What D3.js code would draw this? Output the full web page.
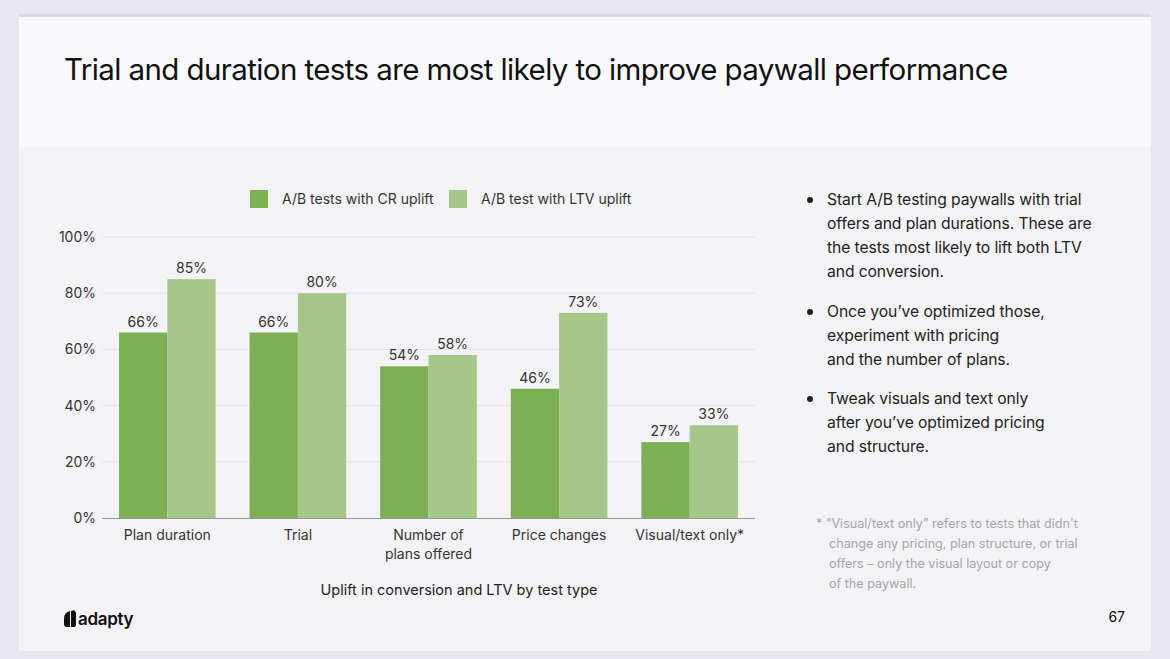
<!DOCTYPE html>
<html><head><meta charset="utf-8">
<script src="https://cdn.jsdelivr.net/npm/d3@7"></script>
<style>
html,body{margin:0;padding:0;background:#e8e7ed;}
svg{display:block;font-family:Inter,"Noto Sans",sans-serif;}
</style></head>
<body>
<svg id="c" width="1170" height="659"></svg>
<script>
const categories = ["Plan duration","Trial","Number of\nplans offered","Price changes","Visual/text only*"];
const seriesNames = ["A/B tests with CR uplift","A/B test with LTV uplift"];
const crValues = [66,66,54,46,27];
const ltvValues = [85,80,58,73,33];
const yTicks = [0,20,40,60,80,100];
const title = "Trial and duration tests are most likely to improve paywall performance";
const caption = "Uplift in conversion and LTV by test type";
const bullets = [
  ["Start A/B testing paywalls with trial","offers and plan durations. These are","the tests most likely to lift both LTV","and conversion."],
  ["Once you\u2019ve optimized those,","experiment with pricing","and the number of plans."],
  ["Tweak visuals and text only","after you\u2019ve optimized pricing","and structure."]
];
const footnote = ["* \u201cVisual/text only\u201d refers to tests that didn't","change any pricing, plan structure, or trial","offers \u2013 only the visual layout or copy","of the paywall."];
const pageNum = "67";
const colors = ["#7daf55","#a5c88a"];

const svg = d3.select("#c");
// slide
svg.append("rect").attr("x",0).attr("y",0).attr("width",1170).attr("height",659).attr("fill","#e8e7ed");
svg.append("rect").attr("x",19).attr("y",14).attr("width",1132).attr("height",637).attr("fill","#d9d8de");
svg.append("rect").attr("x",19).attr("y",17).attr("width",1132).attr("height",634).attr("fill","#f3f3f6");
svg.append("rect").attr("x",19).attr("y",17).attr("width",1132).attr("height",130).attr("fill","#f9f9fb");

svg.append("text").attr("x",64).attr("y",80).attr("font-size",29.5).attr("fill","#111")
  .attr("letter-spacing",-0.6).text(title);

const x0 = d3.scaleBand().domain(categories).range([102,755]).paddingInner(0.26).paddingOuter(0.13);
const x1 = d3.scaleBand().domain([0,1]).range([0,x0.bandwidth()]);
const y = d3.scaleLinear().domain([0,100]).range([518,237]);

// grid
const g = svg.append("g");
g.selectAll("line.grid").data(yTicks.slice(1)).join("line")
  .attr("x1",102).attr("x2",755).attr("y1",d=>y(d)).attr("y2",d=>y(d))
  .attr("stroke","#e2e2e6").attr("stroke-width",1);

// axis
const yAxis = d3.axisLeft(y).tickValues(yTicks).tickFormat(d=>d+"%").tickSize(0).tickPadding(6);
const ya = svg.append("g").attr("transform","translate(102,0)").call(yAxis);
ya.select(".domain").remove();
ya.selectAll("text").attr("font-size",14).attr("fill","#333").attr("font-family","Inter,sans-serif").attr("x",-6);

const data = categories.map((c,i)=>({c, v:[crValues[i],ltvValues[i]]}));
const groups = svg.append("g").selectAll("g").data(data).join("g")
  .attr("transform",d=>`translate(${x0(d.c)},0)`);
groups.selectAll("rect").data(d=>d.v.map((v,k)=>({v,k}))).join("rect")
  .attr("x",d=>x1(d.k)).attr("width",x1.bandwidth()).attr("y",d=>y(d.v)).attr("height",d=>y(0)-y(d.v))
  .attr("fill",d=>colors[d.k]);
groups.selectAll("text").data(d=>d.v.map((v,k)=>({v,k}))).join("text")
  .attr("x",d=>x1(d.k)+x1.bandwidth()/2).attr("y",d=>y(d.v)-6)
  .attr("text-anchor","middle").attr("font-size",14).attr("fill","#333").text(d=>d.v+"%");

// baseline
svg.append("line").attr("x1",102).attr("x2",755).attr("y1",y(0)+0.5).attr("y2",y(0)+0.5).attr("stroke","#999").attr("stroke-width",1.2);

// x labels
const xl = svg.append("g").selectAll("text").data(categories).join("text")
  .attr("x",d=>x0(d)+x0.bandwidth()/2).attr("y",540).attr("text-anchor","middle")
  .attr("font-size",14).attr("fill","#333");
xl.each(function(d){
  const lines=d.split("\n");
  d3.select(this).selectAll("tspan").data(lines).join("tspan")
    .attr("x",x0(d)+x0.bandwidth()/2).attr("dy",(l,i)=>i?19:0).text(l=>l);
});

// legend
const leg = svg.append("g");
seriesNames.forEach((s,i)=>{
  const lx = [250,449][i];
  leg.append("rect").attr("x",lx).attr("y",190).attr("width",18).attr("height",18).attr("fill",colors[i]);
  leg.append("text").attr("x",lx+32).attr("y",204).attr("font-size",14).attr("fill","#333").text(s);
});

svg.append("text").attr("x",459).attr("y",595).attr("text-anchor","middle").attr("font-size",14.5).attr("fill","#222").text(caption);

// bullets
const starts=[199,311,398];
bullets.forEach((b,i)=>{
  svg.append("circle").attr("cx",810).attr("cy",starts[i]+1).attr("r",3).attr("fill","#222");
  b.forEach((l,j)=>{
    svg.append("text").attr("x",827).attr("y",starts[i]+6+j*24).attr("font-size",15.7).attr("letter-spacing",-0.1).attr("fill","#222").text(l);
  });
});
footnote.forEach((l,j)=>{
  svg.append("text").attr("x",j?829:816).attr("y",528+j*20).attr("font-size",12.6).attr("fill","#a5a5aa").text(l);
});
svg.append("text").attr("x",1125).attr("y",622).attr("text-anchor","end").attr("font-size",14).attr("fill","#111").text(pageNum);

// logo
const logo = svg.append("g");
logo.append("path").attr("d","M64,619 Q64,612 70,611 L70,627 L67,627 Q64,627 64,624 Z M71,611 Q75,609 76,613 L76,625 Q76,627 73,627 L71,627 Z").attr("fill","#111");
logo.append("text").attr("x",78).attr("y",625).attr("font-size",17).attr("font-weight",600).attr("fill","#111").attr("letter-spacing",-0.3).text("adapty");
</script>
</body></html>
